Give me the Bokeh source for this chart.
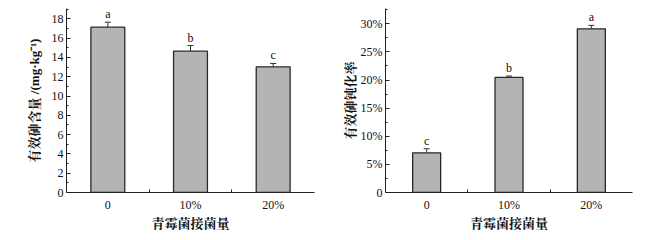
from bokeh.plotting import figure
from bokeh.layouts import row
from bokeh.models import ColumnDataSource, FixedTicker, Whisker, TeeHead, Range1d
from bokeh.embed import file_html
from bokeh.resources import INLINE

# ---- data ----
categories = ["0", "10%", "20%"]
arsenic_content = [17.13, 14.65, 13.02]          # mg/kg
arsenic_content_err = [0.52, 0.58, 0.35]
letters_left = ["a", "b", "c"]
passivation_rate = [7.06, 20.46, 29.1]           # %
passivation_rate_err = [0.72, 0.25, 0.62]
letters_right = ["c", "b", "a"]
left_yticks = [0, 2, 4, 6, 8, 10, 12, 14, 16, 18]
right_yticks = [0, 5, 10, 15, 20, 25, 30]

SERIF = "'Liberation Serif', 'Noto Serif CJK SC', 'Noto Sans CJK SC'"
XLABEL = "青霉菌接菌量"


def make_panel(values, errs, letters, yticks, ymax, ylabel, yfmt, bar_w,
               width, bl, br, nminor, ylab_standoff):
    xs = list(range(len(categories)))
    src = ColumnDataSource(dict(
        x=xs, top=values, lower=values,
        upper=[v + e for v, e in zip(values, errs)],
        lab=letters,
    ))
    p = figure(width=width, height=240, output_backend="svg",
               toolbar_location=None, tools="",
               x_range=Range1d(-0.5, len(categories) - 0.5),
               y_range=Range1d(0, ymax),
               min_border_left=bl, min_border_right=br,
               min_border_top=8, min_border_bottom=48)
    p.outline_line_color = None
    p.grid.visible = False
    p.background_fill_color = "white"
    p.border_fill_color = "white"

    p.vbar(x="x", top="top", width=bar_w, bottom=0, source=src,
           fill_color="#b4b4b4", line_color="#2a2a2a", line_width=1.3)
    w = Whisker(base="x", lower="lower", upper="upper", source=src,
                dimension="height", line_color="#333333", line_width=1,
                upper_head=TeeHead(size=6, line_color="#333333", line_width=1),
                lower_head=None)
    p.add_layout(w)
    p.text(x="x", y="upper", text="lab", source=src,
           text_align="center", text_baseline="bottom", y_offset=-1,
           text_font_size="12px", text_font={"value": "Liberation Serif"},
           text_color="#111111")

    # x axis
    xa = p.xaxis[0]
    xa.ticker = FixedTicker(ticks=xs, minor_ticks=[i + 0.5 for i in xs[:-1]])
    xa.major_label_overrides = {i: c for i, c in enumerate(categories)}
    xa.major_tick_in = 0
    xa.major_tick_out = 0
    xa.minor_tick_in = 3
    xa.minor_tick_out = 0
    xa.major_label_standoff = 5
    xa.axis_label = XLABEL
    xa.axis_label_standoff = 1

    # y axis
    ya = p.yaxis[0]
    minors = []
    for a, b in zip(yticks[:-1], yticks[1:]):
        step = (b - a) / nminor
        minors += [a + step * k for k in range(1, nminor)]
    last = yticks[-1] + (yticks[1] - yticks[0]) / nminor
    if last <= ymax:
        minors.append(last)
    ya.ticker = FixedTicker(ticks=yticks, minor_ticks=minors)
    ya.major_label_overrides = {t: yfmt(t) for t in yticks}
    ya.major_tick_in = 4
    ya.major_tick_out = 0
    ya.minor_tick_in = 2
    ya.minor_tick_out = 0
    ya.major_label_standoff = 3
    ya.axis_label = ylabel
    ya.axis_label_standoff = ylab_standoff

    for ax in (xa, ya):
        ax.axis_line_color = "#222222"
        ax.axis_line_width = 1
        ax.major_tick_line_color = "#222222"
        ax.minor_tick_line_color = "#222222"
        ax.major_label_text_font = "Liberation Serif"
        ax.major_label_text_font_size = "12px"
        ax.major_label_text_color = "#111111"
        ax.axis_label_text_font = SERIF
        ax.axis_label_text_font_size = "13px"
        ax.axis_label_text_font_style = "bold"
        ax.axis_label_text_color = "#111111"
    return p


p1 = make_panel(arsenic_content, arsenic_content_err, letters_left, left_yticks,
                19.07, "有效砷含量 /(mg·kg⁻¹)", lambda t: str(t), 0.41,
                333, 66, 19, 2, 7)
p2 = make_panel(passivation_rate, passivation_rate_err, letters_right, right_yticks,
                32.72, "有效砷钝化率", lambda t: "0" if t == 0 else f"{t}%", 0.34,
                333, 52, 34, 2, 0)

layout = row(p1, p2)
open("out.html", "w").write(file_html(layout, INLINE))
